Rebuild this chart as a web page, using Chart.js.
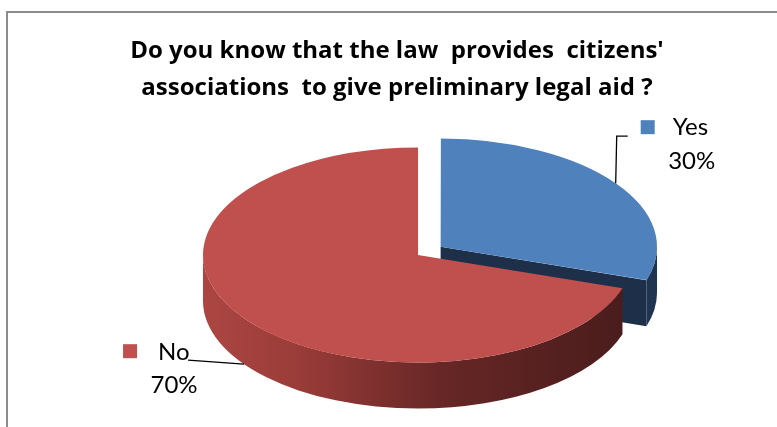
<!DOCTYPE html>
<html>
<head>
<meta charset="utf-8">
<title>Preliminary legal aid survey</title>
<script src="https://cdn.jsdelivr.net/npm/chart.js@4.4.1/dist/chart.umd.min.js"></script>
<style>
  html, body { margin: 0; padding: 0; background: #fff; }
  #chart { display: block; }
</style>
</head>
<body>
<canvas id="chart" width="777" height="427"></canvas>
<script>
const categories = ["Yes", "No"];
const shares = [30, 70];
const sliceColors = ["#4F81BD", "#C0504D"];
const titleLines = [
  "Do you know that the law  provides  citizens'",
  "associations  to give preliminary legal aid ?"
];

// pie is drawn as a tilted disc: top face squashed by TILT, side wall DEPTH px high
const TILT = 0.5;
const DEPTH = 46;

// the chart frame runs past the right edge of the page; title is centred on the frame
const FRAME = { left: 7, top: 12, right: 787 };
const TITLE_FONT = "bold 24px 'Open Sans'";
const TITLE_BASELINE = 58;
const TITLE_LINE = 37;
const LABEL_FONT = "24px Lato";

// label placement relative to each slice's anchor point on the rim
const labelLayout = [
  { key: [25, -63], name: [57, -48], pct: [76, -14], leader: [[1, -47], [12, -47]] },
  { key: [-121, -20], name: [-86, -4], pct: [-70, 29], leader: [[-56, -4]] }
];

function wallStyle(ctx, i, left, right) {
  if (i === 0) return "#1F3450";
  const g = ctx.createLinearGradient(left, 0, right, 0);
  g.addColorStop(0, "#AC4643");
  g.addColorStop(0.22, "#9A3C39");
  g.addColorStop(0.55, "#672726");
  g.addColorStop(1, "#481C1B");
  return g;
}

// parts of [s, e] that fall on the front half of the disc (0..PI, y down)
function frontRanges(s, e) {
  const out = [];
  for (let k = -1; k <= 1; k++) {
    const a = Math.max(s, k * 2 * Math.PI);
    const b = Math.min(e, k * 2 * Math.PI + Math.PI);
    if (b > a) out.push([a, b]);
  }
  return out;
}

// geometry of an arc as it ends up on screen after offset and squash
function sliceGeom(arc, cy0) {
  const p = arc.getProps(["x", "y", "startAngle", "endAngle", "outerRadius", "circumference"], true);
  const off = (arc.options.offset || 0) / 4;
  const mid = (p.startAngle + p.endAngle) / 2;
  const fix = 1 - Math.sin(Math.min(Math.PI, p.circumference || 0));
  const r = p.outerRadius + off * fix;
  return {
    cx: p.x + Math.cos(mid) * off,
    cy: cy0 + (p.y + Math.sin(mid) * off - cy0) * TILT,
    r: r,
    ry: r * TILT,
    s: p.startAngle,
    e: p.endAngle,
    mid: mid
  };
}

const pie3d = {
  id: "pie3d",
  beforeDraw(chart) {
    const ctx = chart.ctx;
    ctx.save();
    ctx.strokeStyle = "#8C8C8C";
    ctx.lineWidth = 2;
    ctx.beginPath();
    ctx.moveTo(FRAME.left, chart.height);
    ctx.lineTo(FRAME.left, FRAME.top);
    ctx.lineTo(chart.width, FRAME.top);
    ctx.stroke();

    ctx.fillStyle = "#000";
    ctx.font = TITLE_FONT;
    ctx.textAlign = "center";
    ctx.textBaseline = "alphabetic";
    const tx = (FRAME.left + FRAME.right) / 2;
    titleLines.forEach((line, i) => ctx.fillText(line, tx, TITLE_BASELINE + i * TITLE_LINE));
    ctx.restore();
  },
  beforeDatasetsDraw(chart) {
    const ctx = chart.ctx;
    const arcs = chart.getDatasetMeta(0).data;
    const cy0 = arcs[0].y;
    const order = arcs.map((a, i) => i).sort((a, b) => {
      const ga = sliceGeom(arcs[a], cy0), gb = sliceGeom(arcs[b], cy0);
      return Math.sin(ga.mid) - Math.sin(gb.mid);
    });
    order.forEach(i => {
      const g = sliceGeom(arcs[i], cy0);
      // cut faces that turn toward the viewer
      [[g.s, Math.cos(g.s) < -1e-6], [g.e, Math.cos(g.e) > 1e-6]].forEach(([a, show]) => {
        if (!show) return;
        ctx.beginPath();
        ctx.moveTo(g.cx, g.cy);
        ctx.lineTo(g.cx + g.r * Math.cos(a), g.cy + g.ry * Math.sin(a));
        ctx.lineTo(g.cx + g.r * Math.cos(a), g.cy + g.ry * Math.sin(a) + DEPTH);
        ctx.lineTo(g.cx, g.cy + DEPTH);
        ctx.closePath();
        ctx.fillStyle = i === 0 ? "#1E3049" : "#7A2E2C";
        ctx.fill();
      });
      // outer wall
      frontRanges(g.s, g.e).forEach(([a, b]) => {
        ctx.beginPath();
        ctx.ellipse(g.cx, g.cy, g.r, g.ry, 0, a, b, false);
        ctx.lineTo(g.cx + g.r * Math.cos(b), g.cy + g.ry * Math.sin(b) + DEPTH);
        ctx.ellipse(g.cx, g.cy + DEPTH, g.r, g.ry, 0, b, a, true);
        ctx.closePath();
        ctx.fillStyle = wallStyle(ctx, i, g.cx - g.r, g.cx + g.r);
        ctx.fill();
      });
    });
    // squash the top faces drawn by the arc elements
    ctx.save();
    ctx.translate(0, cy0);
    ctx.scale(1, TILT);
    ctx.translate(0, -cy0);
  },
  afterDatasetsDraw(chart) {
    const ctx = chart.ctx;
    ctx.restore();
    const arcs = chart.getDatasetMeta(0).data;
    const cy0 = arcs[0].y;
    const values = chart.data.datasets[0].data;
    const total = values.reduce((a, b) => a + b, 0);
    arcs.forEach((arc, i) => {
      const g = sliceGeom(arc, cy0);
      const ax = g.cx + g.r * Math.cos(g.mid);
      const ay = g.cy + g.ry * Math.sin(g.mid) + (Math.sin(g.mid) > 0 ? DEPTH : 0);
      const L = labelLayout[i];
      ctx.save();
      ctx.strokeStyle = "#000";
      ctx.lineWidth = 1.3;
      ctx.beginPath();
      ctx.moveTo(ax, ay);
      L.leader.forEach(([dx, dy]) => ctx.lineTo(ax + dx, ay + dy));
      ctx.stroke();
      ctx.fillStyle = sliceColors[i];
      ctx.fillRect(ax + L.key[0], ay + L.key[1], 14, 14);
      ctx.fillStyle = "#000";
      ctx.font = LABEL_FONT;
      ctx.textBaseline = "alphabetic";
      ctx.textAlign = "left";
      ctx.fillText(chart.data.labels[i], ax + L.name[0], ay + L.name[1]);
      ctx.textAlign = "center";
      ctx.fillText(Math.round(values[i] / total * 100) + "%", ax + L.pct[0], ay + L.pct[1]);
      ctx.restore();
    });
  }
};

new Chart(document.getElementById("chart"), {
  type: "pie",
  data: {
    labels: categories,
    datasets: [{
      data: shares,
      backgroundColor: sliceColors,
      borderWidth: 0,
      offset: [112, 0],
      radius: 215,
      clip: false
    }]
  },
  options: {
    responsive: false,
    animation: false,
    events: [],
    layout: { padding: { left: 59, right: 0, top: 105, bottom: 22 } },
    plugins: {
      legend: { display: false },
      tooltip: { enabled: false },
      title: { display: false }
    }
  },
  plugins: [pie3d]
});
</script>
</body>
</html>
